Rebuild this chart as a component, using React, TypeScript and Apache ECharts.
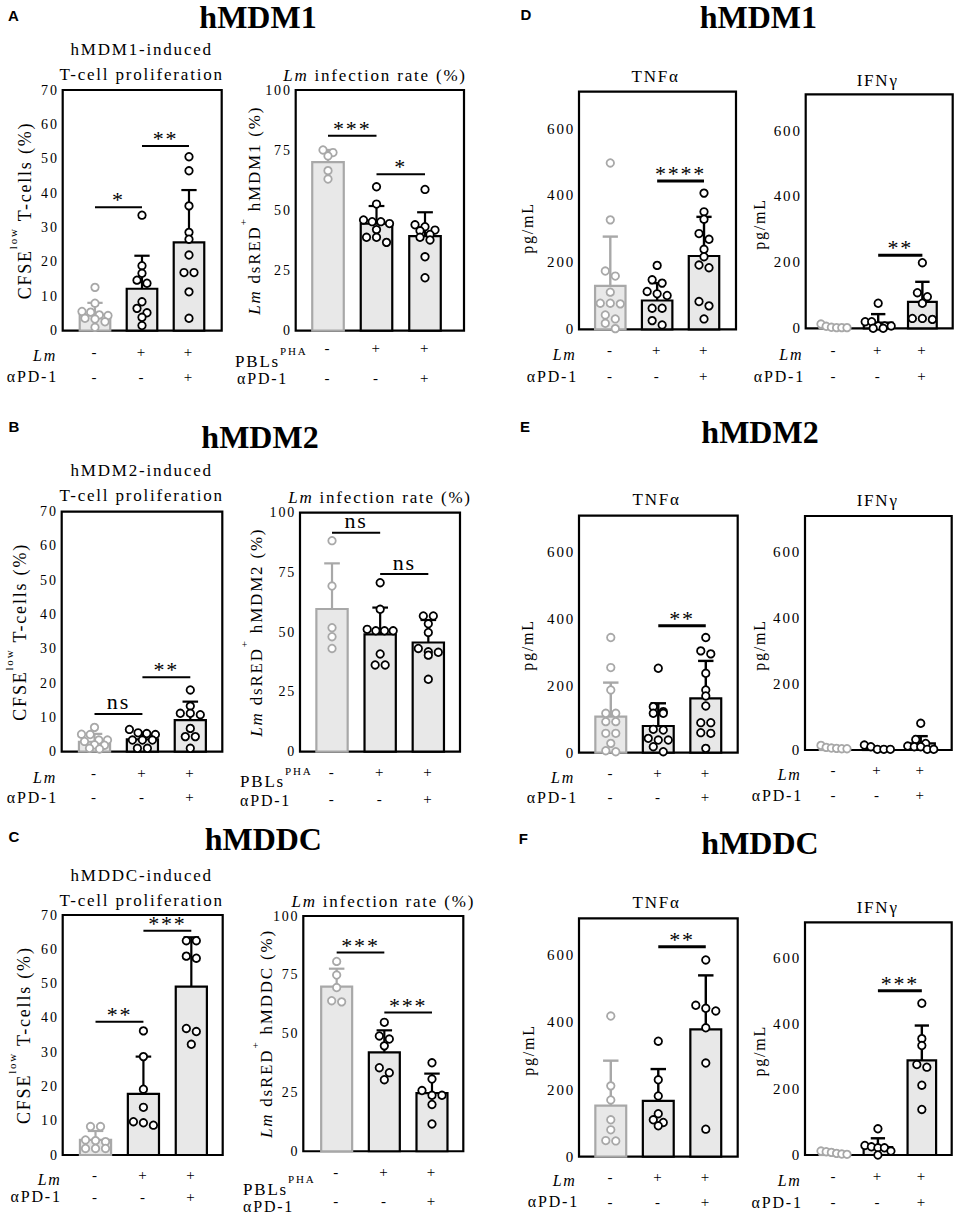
import React, { useEffect, useRef } from "react";
import * as echarts from "echarts";

const SERIF = "Liberation Serif";
const SANS = "Liberation Sans";
const GRAY = "#a8a8a8";
const FILL = "#e8e8e8";
const LS = 1.8; // letter spacing of the light texts (px)

const LM_SIGNS = ["-", "+", "+"];
const PD1_SIGNS = ["-", "-", "+"];
const HEADINGS = ["hMDM1", "hMDM2", "hMDDC"];
const LEFT_LETTERS = ["A", "B", "C"];
const RIGHT_LETTERS = ["D", "E", "F"];

// ---------- hMDM1 ----------
const cfseMdm1Means = [4.6, 12.2, 25.7];
const cfseMdm1Tops = [8.1, 21.8, 40.9];
const cfseMdm1Points = [
  [12.6, 8.0, 5.6, 5.4, 4.6, 4.4, 3.6, 3.4, 2.6, 1.0],
  [33.6, 18.9, 16.7, 14.7, 13.8, 8.4, 6.5, 5.2, 3.9, 1.5],
  [50.6, 46.5, 36.3, 28.6, 26.6, 22.0, 16.9, 16.9, 11.3, 3.6],
];
const cfseMdm1Sig = [[0, 1, 35.9, "*"], [1, 2, 53.7, "**"]];

const infMdm1Means = [70.0, 44.5, 39.3];
const infMdm1Tops = [75.1, 51.8, 49.2];
const infMdm1Points = [
  [75.1, 74.0, 72.6, 66.5, 63.0],
  [59.8, 52.6, 46.0, 45.3, 45.3, 44.5, 42.0, 38.8, 38.8, 36.7],
  [58.7, 44.0, 43.2, 41.8, 41.5, 40.0, 38.8, 37.7, 30.7, 22.0],
];
const infMdm1Sig = [[0, 1, 81, "***"], [1, 2, 65, "*"]];

const tnfMdm1Means = [130, 86, 219];
const tnfMdm1Tops = [277, 138, 336];
const tnfMdm1Points = [
  [497, 327, 174, 159, 111, 78, 78, 76, 43, 31, 18, 2],
  [191, 148, 138, 113, 106, 101, 63, 63, 26, 13],
  [407, 351, 329, 286, 269, 239, 217, 192, 184, 83, 70, 31],
];
const tnfMdm1Sig = [[1, 2, 443, "****"]];

const ifnMdm1Means = [5, 17, 80];
const ifnMdm1Tops = [9, 43, 141];
const ifnMdm1Points = [
  [13, 6, 3, 2, 2, 2],
  [76, 20, 20, 7, 7, 7, 0, 0],
  [199, 108, 96, 76, 30, 30, 27],
];
const ifnMdm1Sig = [[1, 2, 222, "**"]];

// ---------- hMDM2 ----------
const cfseMdm2Means = [2.9, 3.6, 9.2];
const cfseMdm2Tops = [5.2, 5.6, 14.6];
const cfseMdm2Points = [
  [7.1, 5.1, 5.0, 3.4, 3.4, 3.0, 2.0, 1.9, 1.0, 0.8],
  [6.5, 5.5, 5.3, 5.0, 3.4, 3.4, 3.4, 1.0, 1.0],
  [18.0, 13.3, 11.2, 11.2, 10.8, 6.8, 4.4, 4.4, 1.0],
];
const cfseMdm2Sig = [[0, 1, 11, "ns"], [1, 2, 21.7, "**"]];

const infMdm2Means = [59.7, 49.1, 45.7];
const infMdm2Tops = [78.8, 60.3, 55.1];
const infMdm2Points = [
  [88.3, 69.3, 51.9, 48.1, 43.2],
  [70.7, 59.6, 51.2, 50.6, 50.6, 50.6, 40.9, 36.3, 36.3],
  [56.8, 56.8, 53.5, 49.9, 43.2, 41.8, 41.6, 40.4, 30.3],
];
const infMdm2Sig = [[0, 1, 91.6, "ns"], [1, 2, 74.3, "ns"]];

const tnfMdm2Means = [108, 80, 163];
const tnfMdm2Tops = [210, 148, 275];
const tnfMdm2Points = [
  [345, 255, 188, 118, 118, 93, 93, 58, 58, 28, 6, 3],
  [253, 138, 123, 118, 118, 70, 68, 43, 38, 38, 18, 3],
  [345, 305, 296, 238, 188, 170, 140, 90, 90, 60, 58, 13],
];
const tnfMdm2Sig = [[1, 2, 380, "**"]];

const ifnMdm2Means = [6, 5, 20];
const ifnMdm2Tops = [9, 8, 42];
const ifnMdm2Points = [
  [14, 8, 6, 5, 4, 4],
  [15, 10, 2, 2, 2],
  [81, 32, 20, 12, 10, 10, 2, 2],
];
const ifnMdm2Sig: any[] = [];

// ---------- hMDDC ----------
const cfseMddcMeans = [4.4, 17.8, 49.1];
const cfseMddcTops = [7.0, 28.7, 63.5];
const cfseMddcPoints = [
  [8.3, 8.3, 4.4, 4.2, 3.9, 1.9, 1.9, 1.9],
  [36.2, 28.7, 19.2, 13.9, 9.7, 9.4, 8.7],
  [62.5, 62.5, 58.0, 57.4, 36.9, 36.0, 32.3],
];
const cfseMddcSig = [[0, 1, 38.9, "**"], [1, 2, 65.4, "***"]];

const infMddcMeans = [70.0, 42.0, 24.7];
const infMddcTops = [77.6, 51.4, 33.0];
const infMddcPoints = [
  [80.7, 74.9, 69.6, 64.0, 63.5],
  [54.8, 49.0, 47.7, 44.8, 35.5, 33.4, 30.4],
  [37.6, 30.7, 25.8, 23.8, 23.8, 19.9, 11.6],
];
const infMddcSig = [[0, 1, 84.5, "***"], [1, 2, 59, "***"]];

const tnfMddcMeans = [152, 166, 379];
const tnfMddcTops = [286, 261, 540];
const tnfMddcPoints = [
  [419, 211, 169, 110, 80, 48, 47],
  [344, 229, 181, 128, 110, 102, 92],
  [586, 451, 442, 434, 384, 279, 82],
];
const tnfMddcSig = [[1, 2, 625, "**"]];

const ifnMddcMeans = [5, 24, 289];
const ifnMddcTops = [8, 51, 395];
const ifnMddcPoints = [
  [12, 10, 8, 5, 3, 2],
  [80, 29, 25, 22, 22, 12, 0],
  [463, 355, 334, 276, 268, 213, 139],
];
const ifnMddcSig = [[1, 2, 501, "***"]];

// ---------- kinds ----------
const KINDS: any = {
  cfse: { ymax: 70, interval: 10, tick: 14, sigW: 2, errW: 2.2 },
  inf: { ymax: 100, interval: 25, tick: 14, sigW: 2, errW: 2.2 },
  tnf: { ymax: 710, interval: 200, tick: 15, sigW: 3, errW: 2.4 },
  ifn: { ymax: 710, interval: 200, tick: 15, sigW: 3, errW: 2.4 },
};

// layout: rect [left, top, width, height], x-range, label margin, row gap, name gap, name shift, title pos, row label pos
const PANELS: any[] = [
  { kind: "cfse", cell: "hMDM1", means: cfseMdm1Means, tops: cfseMdm1Tops, points: cfseMdm1Points, sig: cfseMdm1Sig,
    rect: [62.7, 90, 159, 240.7], xr: [-0.687, 2.696], lm: 8.5, lh: 25, ng: 29, nsh: 0, title: [141.7, 61.5], rows: [57, 351.7, 58, 376.7, "right"] },
  { kind: "inf", cell: "hMDM1", means: infMdm1Means, tops: infMdm1Tops, points: infMdm1Points, sig: infMdm1Sig,
    rect: [295.7, 90, 168.3, 240.7], xr: [-0.666, 2.804], lm: 2.3, lh: 30, ng: 32.5, nsh: 0, title: [375, 74], rows: [235, 357.5, 237, 378, "left"] },
  { kind: "tnf", cell: "hMDM1", means: tnfMdm1Means, tops: tnfMdm1Tops, points: tnfMdm1Points, sig: tnfMdm1Sig,
    rect: [579, 91.7, 157, 237.6], xr: [-0.668, 2.683], lm: 7.7, lh: 26, ng: 43.8, nsh: 17.5, title: [655.7, 76.7], rows: [576.7, 350, 578, 376, "right"] },
  { kind: "ifn", cell: "hMDM1", means: ifnMdm1Means, tops: ifnMdm1Tops, points: ifnMdm1Points, sig: ifnMdm1Sig,
    rect: [805.7, 94.3, 147, 234], xr: [-0.64, 2.686], lm: 8.7, lh: 26, ng: 38.5, nsh: 12.7, title: [877.7, 80], rows: [803.3, 350, 805, 376, "right"] },

  { kind: "cfse", cell: "hMDM2", means: cfseMdm2Means, tops: cfseMdm2Tops, points: cfseMdm2Points, sig: cfseMdm2Sig,
    rect: [61.7, 511.7, 160.6, 240], xr: [-0.685, 2.668], lm: 9.9, lh: 23.4, ng: 32.7, nsh: 0, title: [141.7, 483.3], rows: [57, 773.3, 58, 797, "right"] },
  { kind: "inf", cell: "hMDM2", means: infMdm2Means, tops: infMdm2Tops, points: infMdm2Points, sig: infMdm2Sig,
    rect: [300, 512.7, 160, 239], xr: [-0.665, 2.658], lm: 6.5, lh: 27, ng: 35.5, nsh: 0, title: [380, 496], rows: [240, 777.5, 240, 800, "left"] },
  { kind: "tnf", cell: "hMDM2", means: tnfMdm2Means, tops: tnfMdm2Tops, points: tnfMdm2Points, sig: tnfMdm2Sig,
    rect: [579, 515.7, 158.7, 237], xr: [-0.669, 2.672], lm: 8.6, lh: 24, ng: 43.5, nsh: 10.8, title: [656.7, 499.3], rows: [575, 773.3, 578, 797, "right"] },
  { kind: "ifn", cell: "hMDM2", means: ifnMdm2Means, tops: ifnMdm2Tops, points: ifnMdm2Points, sig: ifnMdm2Sig,
    rect: [805, 516, 146.7, 234], xr: [-0.668, 2.714], lm: 7.5, lh: 25, ng: 38, nsh: 12, title: [877.7, 500], rows: [801.7, 770, 803, 795, "right"] },

  { kind: "cfse", cell: "hMDDC", means: cfseMddcMeans, tops: cfseMddcTops, points: cfseMddcPoints, sig: cfseMddcSig,
    rect: [62.7, 915, 160, 240], xr: [-0.685, 2.655], lm: 9.15, lh: 21.7, ng: 30, nsh: 0, title: [141.7, 887.5], rows: [61.7, 1175, 61.7, 1196.7, "right"] },
  { kind: "inf", cell: "hMDDC", means: infMddcMeans, tops: infMddcTops, points: infMddcPoints, sig: infMddcSig,
    rect: [303.3, 916, 160, 241.3], xr: [-0.7, 2.657], lm: 6.35, lh: 28.7, ng: 28.3, nsh: 0, title: [383.3, 900], rows: [243, 1185.7, 243, 1206.7, "left"] },
  { kind: "tnf", cell: "hMDDC", means: tnfMddcMeans, tops: tnfMddcTops, points: tnfMddcPoints, sig: tnfMddcSig,
    rect: [579, 918.3, 158.7, 238.4], xr: [-0.669, 2.672], lm: 7.5, lh: 25, ng: 42.7, nsh: 12.5, title: [656.7, 902.7], rows: [576.7, 1176.7, 579, 1201.7, "right"] },
  { kind: "ifn", cell: "hMDDC", means: ifnMddcMeans, tops: ifnMddcTops, points: ifnMddcPoints, sig: ifnMddcSig,
    rect: [805, 922.3, 146.7, 233.4], xr: [-0.66, 2.68], lm: 8, lh: 26, ng: 38, nsh: 12, title: [877.7, 907.3], rows: [801.7, 1176.7, 802.7, 1202.7, "right"] },
];

const HEAD_POS = [[258, 17], [260, 437], [263.3, 839], [758.3, 17], [760, 432], [760, 843.3]];
const LETTER_POS = [[13.3, 15], [14, 426.7], [14, 836.7], [525.8, 14], [525, 426.7], [523.3, 838.3]];

const BAR_W = 0.65;
const ROW_PX = 6;
const SPACING_PX = 10;
const MAX_ROW_PX = 26;

// rich text built from tokens; paddings make room for the letter spacing
function buildRich(tokens: [string, string][], size: number, lh: number) {
  const rich: any = {};
  let text = "";
  tokens.forEach(([t, kind], k) => {
    const key = "t" + k;
    const prev = k > 0 ? tokens[k - 1][0].length : 0;
    const last = k === tokens.length - 1;
    const padL = prev * LS;
    const padR = last ? t.length * LS : 0;
    const base: any =
      kind === "s"
        ? { fontFamily: SERIF, fontSize: Math.round(size * 0.62), lineHeight: 10, verticalAlign: "top" }
        : { fontFamily: SERIF, fontSize: size, lineHeight: lh, verticalAlign: "bottom", fontStyle: kind === "i" ? "italic" : "normal" };
    rich[key] = { ...base, align: "left", color: "#000", fill: "#000", padding: [0, padR, 0, padL] };
    text += `{${key}|${t}}`;
  });
  return { text, rich };
}

function swarm(p: any, ymax: number) {
  const w = p.rect[2], h = p.rect[3];
  const pxX = w / (p.xr[1] - p.xr[0]);
  const pxY = h / ymax;
  const out: any[] = [];
  p.points.forEach((vals: number[], g: number) => {
    const sorted = [...vals].sort((a, b) => b - a);
    const rows: number[][] = [];
    sorted.forEach((v) => {
      const row = rows[rows.length - 1];
      if (row && (row[0] - v) * pxY < ROW_PX) row.push(v);
      else rows.push([v]);
    });
    rows.forEach((row) => {
      const k = row.length;
      const sp = k > 1 ? Math.min(SPACING_PX, MAX_ROW_PX / (k - 1)) : 0;
      row.forEach((v, j) => out.push([g + ((j - (k - 1) / 2) * sp) / pxX, v, g === 0 ? 1 : 0]));
    });
  });
  return out;
}

function yNameTokens(p: any): [string, string][] {
  if (p.kind === "cfse") return [["CFSE", "n"], ["low", "s"], [" T-cells (%)", "n"]];
  return [["Lm", "i"], [" dsRED", "n"], ["+", "s"], [` ${p.cell} (%)`, "n"]];
}

function buildOption() {
  const grid: any[] = [];
  const xAxis: any[] = [];
  const yAxis: any[] = [];
  const series: any[] = [];
  const elements: any[] = [];

  PANELS.forEach((p, k) => {
    const K = KINDS[p.kind];
    const [left, top, width, height] = p.rect;
    grid.push({ left, top, width, height, show: true, borderColor: "#000", borderWidth: 2.2, backgroundColor: "transparent" });
    xAxis.push({
      gridIndex: k, type: "value", min: p.xr[0], max: p.xr[1],
      axisLine: { show: false }, axisTick: { show: false }, splitLine: { show: false },
      axisLabel: {
        customValues: [0, 1, 2],
        formatter: (v: number) => `${LM_SIGNS[Math.round(v)]}\n${PD1_SIGNS[Math.round(v)]}`,
        fontFamily: SERIF, fontSize: 15, color: "#000", lineHeight: p.lh, margin: p.lm,
      },
    });
    const isPg = p.kind === "tnf" || p.kind === "ifn";
    const nameSize = p.kind === "cfse" ? 18 : 17;
    let name = "pg/mL";
    let nameTextStyle: any = { fontFamily: SERIF, fontSize: 16, color: "#000", padding: [0, p.nsh * 2, 0, 0] };
    if (!isPg) {
      const r = buildRich(yNameTokens(p), nameSize, 26);
      name = r.text;
      nameTextStyle = { fontFamily: SERIF, fontSize: nameSize, color: "#000", rich: r.rich };
    }
    yAxis.push({
      gridIndex: k, type: "value", min: 0, max: K.ymax, interval: K.interval,
      axisLine: { show: false }, axisTick: { show: false }, splitLine: { show: false },
      axisLabel: { fontFamily: SERIF, fontSize: K.tick, color: "#000", margin: 4, showMaxLabel: K.ymax % K.interval === 0 },
      name, nameLocation: "middle", nameRotate: 90, nameGap: p.ng, nameMoveOverlap: false, nameTextStyle,
    });

    // bars + error bars
    series.push({
      type: "custom", xAxisIndex: k, yAxisIndex: k, z: 2, silent: true, clip: false,
      data: p.means.map((m: number, i: number) => [i, m, p.tops[i], i === 0 ? 1 : 0]),
      renderItem: (params: any, api: any) => {
        const x = api.value(0), m = api.value(1), t = api.value(2), g = api.value(3);
        const col = g ? GRAY : "#000";
        const base = api.coord([x, 0]);
        const mt = api.coord([x, m]);
        const tt = api.coord([x, t]);
        const bw = api.size([BAR_W, 0])[0];
        const cap = bw * 0.5;
        return {
          type: "group",
          children: [
            { type: "rect", shape: { x: base[0] - bw / 2, y: mt[1], width: bw, height: base[1] - mt[1] }, style: { fill: FILL, stroke: col, lineWidth: 2.2 } },
            { type: "line", shape: { x1: base[0], y1: mt[1], x2: base[0], y2: tt[1] }, style: { stroke: col, lineWidth: K.errW } },
            { type: "line", shape: { x1: base[0] - cap / 2, y1: tt[1], x2: base[0] + cap / 2, y2: tt[1] }, style: { stroke: col, lineWidth: K.errW } },
          ],
        };
      },
    });

    // points
    series.push({
      type: "scatter", xAxisIndex: k, yAxisIndex: k, z: 5, silent: true, symbol: "circle", symbolSize: 7.5,
      data: swarm(p, K.ymax).map((d) => ({
        value: [d[0], d[1]],
        itemStyle: { color: "#fff", borderColor: d[2] ? GRAY : "#000", borderWidth: 1.8, opacity: 1 },
      })),
    });

    // significance brackets
    if (p.sig.length) {
      series.push({
        type: "custom", xAxisIndex: k, yAxisIndex: k, z: 4, silent: true, clip: false,
        data: p.sig.map((s: any[]) => [s[0], s[1], s[2]]),
        renderItem: (params: any, api: any) => {
          const a = api.coord([api.value(0), api.value(2)]);
          const b = api.coord([api.value(1), api.value(2)]);
          const label = p.sig[params.dataIndex][3];
          const ns = label === "ns";
          return {
            type: "group",
            children: [
              { type: "line", shape: { x1: a[0], y1: a[1], x2: b[0], y2: a[1] }, style: { stroke: "#000", lineWidth: K.sigW } },
              {
                type: "text",
                style: {
                  text: label, x: (a[0] + b[0]) / 2, y: a[1] + (ns ? -12 : -7.4),
                  textAlign: "center", textVerticalAlign: "middle", align: "center", verticalAlign: "middle",
                  font: `22px '${SERIF}'`, fill: "#000",
                },
              },
            ],
          };
        },
      });
    }

    // panel title
    if (p.kind === "inf") {
      const r = buildRich([["Lm", "i"], [" infection rate (%)", "n"]], 17, 20);
      elements.push({
        type: "text", silent: true,
        style: { text: r.text, rich: r.rich, x: p.title[0], y: p.title[1], textAlign: "center", textVerticalAlign: "middle",
          align: "center", verticalAlign: "middle", font: `17px '${SERIF}'`, fill: "#000" },
      });
    } else {
      const t = p.kind === "cfse" ? `${p.cell}-induced\nT-cell proliferation` : p.kind === "tnf" ? "TNFα" : "IFNγ";
      elements.push({
        type: "text", silent: true,
        style: { text: t, x: p.title[0], y: p.title[1], textAlign: "center", textVerticalAlign: "middle",
          align: "center", verticalAlign: "middle", font: `17px '${SERIF}'`, fill: "#000", lineHeight: 25 },
      });
    }

    // row labels
    const [x1, y1, x2, y2, al] = p.rows;
    const isInf = p.kind === "inf";
    const r1 = isInf ? buildRich([["PBLs", "n"], ["PHA", "s"]], 17, 24) : buildRich([["Lm", "i"]], 16, 24);
    elements.push({
      type: "text", silent: true,
      style: { text: r1.text, rich: r1.rich, x: x1, y: y1, textAlign: al, align: al, textVerticalAlign: "middle", verticalAlign: "middle",
        font: `16px '${SERIF}'`, fill: "#000" },
    });
    elements.push({
      type: "text", silent: true,
      style: { text: "αPD-1", x: x2, y: y2, textAlign: al, align: al, textVerticalAlign: "middle", verticalAlign: "middle",
        font: `16px '${SERIF}'`, fill: "#000" },
    });
  });

  HEAD_POS.forEach((pos, i) => {
    elements.push({
      type: "text", silent: true,
      style: { text: HEADINGS[i % 3], x: pos[0], y: pos[1], textAlign: "center", align: "center", textVerticalAlign: "middle", verticalAlign: "middle",
        font: `bold 32px '${SERIF}'`, fill: "#000" },
    });
  });
  LETTER_POS.forEach((pos, i) => {
    elements.push({
      type: "text", silent: true,
      style: { text: i < 3 ? LEFT_LETTERS[i] : RIGHT_LETTERS[i - 3], x: pos[0], y: pos[1], textAlign: "center", align: "center",
        textVerticalAlign: "middle", verticalAlign: "middle", font: `bold 15px '${SANS}'`, fill: "#000" },
    });
  });

  return {
    animation: false,
    backgroundColor: "#fff",
    textStyle: { fontFamily: SERIF },
    grid, xAxis, yAxis, series,
    graphic: { elements },
  };
}

const CSS = `
.fig svg text { letter-spacing: ${LS}px; }
.fig svg text[style*="bold"] { letter-spacing: 0; }
`;

export default function App() {
  const ref = useRef<HTMLDivElement>(null);
  useEffect(() => {
    document.body.style.margin = "0";
    const chart = echarts.init(ref.current as HTMLDivElement, null, { renderer: "svg" });
    chart.setOption(buildOption() as any);
    return () => chart.dispose();
  }, []);
  return (
    <>
      <style>{CSS}</style>
      <div className="fig" ref={ref} style={{ width: 956, height: 1215 }} />
    </>
  );
}
